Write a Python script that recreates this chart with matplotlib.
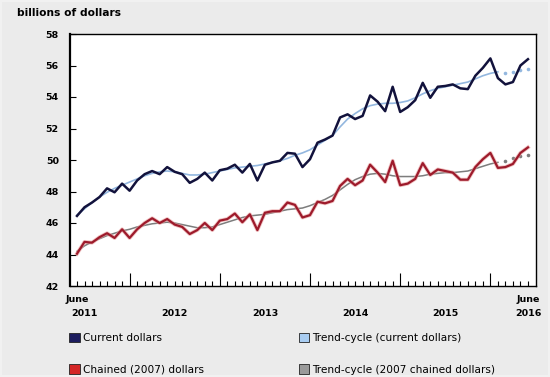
import matplotlib
matplotlib.use('Agg')
import matplotlib.pyplot as plt
from matplotlib.patches import Patch, Rectangle
from matplotlib.ticker import FixedLocator

# monthly values, June 2011 .. June 2016 (billions of dollars)
current = [46.45, 47.0, 47.3, 47.65, 48.2, 47.95, 48.5, 48.05, 48.7, 49.1,
           49.3, 49.1, 49.55, 49.25, 49.1, 48.55, 48.8, 49.2, 48.7, 49.35,
           49.45, 49.7, 49.2, 49.75, 48.7, 49.7, 49.85, 49.95, 50.45, 50.4,
           49.55, 50.05, 51.1, 51.3, 51.55, 52.7, 52.9, 52.6, 52.8, 54.1,
           53.7, 53.1, 54.65, 53.05, 53.35, 53.8, 54.9, 53.95, 54.65, 54.7,
           54.8, 54.55, 54.5, 55.35, 55.85, 56.45, 55.2, 54.8, 54.95, 56.0, 56.4]
chained = [44.05, 44.8, 44.75, 45.1, 45.35, 45.05, 45.6, 45.05, 45.6, 46.0,
           46.3, 46.0, 46.25, 45.9, 45.75, 45.3, 45.55, 46.0, 45.55, 46.15,
           46.25, 46.6, 46.05, 46.55, 45.55, 46.65, 46.75, 46.75, 47.3, 47.15,
           46.35, 46.5, 47.35, 47.25, 47.4, 48.35, 48.8, 48.4, 48.7, 49.7,
           49.2, 48.6, 49.95, 48.4, 48.5, 48.8, 49.8, 49.05, 49.4, 49.3,
           49.2, 48.75, 48.75, 49.55, 50.05, 50.45, 49.5, 49.55, 49.75, 50.45, 50.8]
# trend-cycle, solid part (June 2011 .. Jan 2016)
trend_current = [46.5, 46.9, 47.3, 47.65, 47.95, 48.2, 48.4, 48.6, 48.8, 49.0,
                 49.15, 49.25, 49.3, 49.25, 49.15, 49.05, 49.05, 49.1, 49.2, 49.3,
                 49.4, 49.5, 49.55, 49.6, 49.65, 49.75, 49.85, 49.95, 50.1, 50.3,
                 50.45, 50.65, 50.95, 51.25, 51.55, 52.1, 52.6, 52.95, 53.25, 53.45,
                 53.55, 53.6, 53.6, 53.65, 53.75, 53.95, 54.2, 54.4, 54.55, 54.65,
                 54.75, 54.85, 54.95, 55.15, 55.35, 55.5, 55.6]
trend_chained = [44.2, 44.55, 44.8, 45.0, 45.2, 45.35, 45.5, 45.6, 45.75, 45.85,
                 45.95, 46.0, 46.05, 46.0, 45.9, 45.8, 45.7, 45.7, 45.75, 45.9,
                 46.05, 46.2, 46.35, 46.45, 46.5, 46.55, 46.65, 46.75, 46.85, 46.9,
                 46.95, 47.1, 47.3, 47.5, 47.75, 48.1, 48.45, 48.75, 48.95, 49.1,
                 49.15, 49.1, 49.0, 48.95, 48.95, 48.95, 49.0, 49.1, 49.15, 49.2,
                 49.2, 49.25, 49.3, 49.45, 49.6, 49.75, 49.85]
# trend-cycle, last months (dotted)
trend_current_tail = [55.55, 55.6, 55.7, 55.75]
trend_chained_tail = [49.95, 50.1, 50.25, 50.3]

month_labels = ['June', 'June']
month_label_pos = [0, 60]
year_labels = ['2011', '2012', '2013', '2014', '2015', '2016']
year_label_pos = [1.0, 13, 25, 37, 49, 60]
january_idx = [7, 19, 31, 43, 55]
y_ticks = [42, 44, 46, 48, 50, 52, 54, 56, 58]

legend_labels = ['Current dollars', 'Chained (2007) dollars',
                 'Trend-cycle (current dollars)', 'Trend-cycle (2007 chained dollars)']

bg = '#ebebeb'
navy = '#12123c'
lblue = '#93b7df'
red = '#9d1a2b'
gray = '#7d7d7d'

fig = plt.figure(figsize=(5.5, 3.77), dpi=100, facecolor=bg)
fig.patches.append(Rectangle((0, 0), 1, 1, transform=fig.transFigure, fill=False,
                             edgecolor='#f1f1f1', lw=3, zorder=0))
ax = fig.add_axes([70 / 550, 1 - 286 / 377, 466 / 550, 252 / 377])
ax.set_facecolor('white')

n = len(current)
months = list(range(n))
ns = len(trend_current)
tail_x = list(range(ns, ns + len(trend_current_tail)))

ax.plot(months[:ns], trend_current, color=lblue, lw=1.2, zorder=2)
ax.plot(months[:ns], trend_chained, color=gray, lw=1.1, zorder=2)
ax.plot(tail_x, trend_current_tail, ls='none', marker='o', ms=2.6, color=lblue, mec='none', zorder=2)
ax.plot(tail_x, trend_chained_tail, ls='none', marker='o', ms=2.6, color=gray, mec='none', zorder=2)

ax.plot(months, chained, color='#e79a9a', lw=2.8, alpha=0.6, zorder=3)
ax.plot(months, chained, color=red, lw=1.6, zorder=4)
ax.plot(months, current, color=navy, lw=1.8, zorder=4)

ax.set_xlim(-0.93, 61.07)
ax.set_ylim(42, 58)

ax.set_yticks(y_ticks)
ax.set_yticklabels([str(v) for v in y_ticks], fontsize=6.8, fontweight='bold')
ax.tick_params(axis='y', direction='in', length=4, width=0.8, pad=8)

ax.xaxis.set_major_locator(FixedLocator(january_idx))
ax.xaxis.set_minor_locator(FixedLocator(months))
ax.tick_params(axis='x', which='major', direction='in', length=9.5, width=0.8, labelbottom=False)
ax.tick_params(axis='x', which='minor', direction='in', length=3.5, width=0.8)

for s in ax.spines.values():
    s.set_color('black')
    s.set_linewidth(1.0)
ax.spines['left'].set_linewidth(1.6)

xt = ax.get_xaxis_transform()
for lab, pos in zip(month_labels, month_label_pos):
    ax.text(pos, -0.055, lab, transform=xt, ha='center', va='center',
            fontsize=6.8, fontweight='bold')
for lab, pos in zip(year_labels, year_label_pos):
    ax.text(pos, -0.108, lab, transform=xt, ha='center', va='center',
            fontsize=6.8, fontweight='bold')

fig.text(17 / 550, 1 - 13 / 377, 'billions of dollars', fontsize=7.7, fontweight='bold',
         va='center', ha='left')

handles = [Patch(facecolor='#1c1c5e', edgecolor='#222222', lw=0.6),
           Patch(facecolor='#d42626', edgecolor='#222222', lw=0.6),
           Patch(facecolor='#a9cdf2', edgecolor='#222222', lw=0.6),
           Patch(facecolor='#9a9a9a', edgecolor='#222222', lw=0.6)]
fig.legend(handles, legend_labels, loc='upper left', bbox_to_anchor=(69 / 550, 1 - 333 / 377),
           ncol=2, frameon=False, fontsize=7.6, borderpad=0, borderaxespad=0,
           handlelength=1.0, handleheight=1.0, handletextpad=0.3,
           labelspacing=2.0, columnspacing=9.0)

fig.savefig('out.png', dpi=100, facecolor=bg)
